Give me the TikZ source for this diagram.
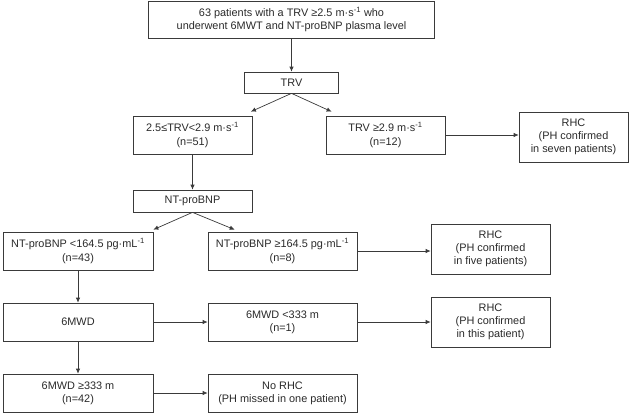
\documentclass[tikz,border=0pt]{standalone}
\usepackage{fontspec}
\setmainfont{Liberation Sans}
\usetikzlibrary{arrows.meta}
\definecolor{linec}{HTML}{3A3A3A}
\definecolor{textc}{HTML}{2A2A2A}
\newcommand\supm[1]{\textsuperscript{#1}}
\begin{document}
\begin{tikzpicture}[x=1pt,y=-1pt,
  box/.style={draw=linec, line width=0.7pt, align=center, inner sep=0pt,
    font=\fontsize{10.9}{13.3}\selectfont, text=textc},
  arr/.style={draw=linec, line width=0.7pt, -{Latex[length=5pt,width=4.5pt]}}]
\useasboundingbox (0,0) rectangle (640,413);
\node[box, minimum width=286pt, minimum height=37pt] (top) at (291.5,19.5)
  {63 patients with a TRV ≥2.5 m·s\supm{-1} who\\underwent 6MWT and NT-proBNP plasma level};
\node[box, minimum width=94pt, minimum height=21pt] (trv) at (291.5,82.5) {TRV};
\node[box, minimum width=119pt, minimum height=38pt] (l1) at (192.5,135)
  {2.5≤TRV<2.9 m·s\supm{-1}\\(n=51)};
\node[box, minimum width=119pt, minimum height=38pt] (r1) at (385.5,135)
  {TRV ≥2.9 m·s\supm{-1}\\(n=12)};
\node[box, minimum width=109pt, minimum height=50pt] (rhc7) at (573.5,137)
  {RHC\\(PH confirmed\\in seven patients)};
\node[box, minimum width=119pt, minimum height=22pt] (nt) at (192.5,201) {NT-proBNP};
\node[box, minimum width=150pt, minimum height=38pt] (ntlow) at (78,251)
  {NT-proBNP <164.5 pg·mL\supm{-1}\\(n=43)};
\node[box, minimum width=149pt, minimum height=38pt] (nthigh) at (282.5,251)
  {NT-proBNP ≥164.5 pg·mL\supm{-1}\\(n=8)};
\node[box, minimum width=119pt, minimum height=50pt] (rhc5) at (490.5,249)
  {RHC\\(PH confirmed\\in five patients)};
\node[box, minimum width=150pt, minimum height=38pt] (mw) at (78,322) {6MWD};
\node[box, minimum width=149pt, minimum height=38pt] (mwlow) at (282.5,322)
  {6MWD <333 m\\(n=1)};
\node[box, minimum width=119pt, minimum height=50pt] (rhc1) at (490.5,322)
  {RHC\\(PH confirmed\\in this patient)};
\node[box, minimum width=150pt, minimum height=38pt] (mwhi) at (78,393)
  {6MWD ≥333 m\\(n=42)};
\node[box, minimum width=149pt, minimum height=38pt] (norhc) at (282.5,393)
  {No RHC\\(PH missed in one patient)};
\draw[arr] (top) -- (trv);
\draw[arr] (trv.south) -- ([xshift=-1.5pt,yshift=4pt]l1.north east);
\draw[arr] (trv.south) -- ([xshift=6pt,yshift=4pt]r1.north west);
\draw[arr] (r1.east) -- (r1.east -| rhc7.west);
\draw[arr] (l1) -- (nt);
\draw[arr] (nt.south) -- ([yshift=2pt]ntlow.north east);
\draw[arr] (nt.south) -- ([xshift=27pt,yshift=2pt]nthigh.north west);
\draw[arr] (nthigh.east) -- (nthigh.east -| rhc5.west);
\draw[arr] (ntlow) -- (mw);
\draw[arr] (mw) -- (mwlow);
\draw[arr] (mwlow) -- (rhc1);
\draw[arr] (mw) -- (mwhi);
\draw[arr] (mwhi) -- (norhc);
\end{tikzpicture}
\end{document}
